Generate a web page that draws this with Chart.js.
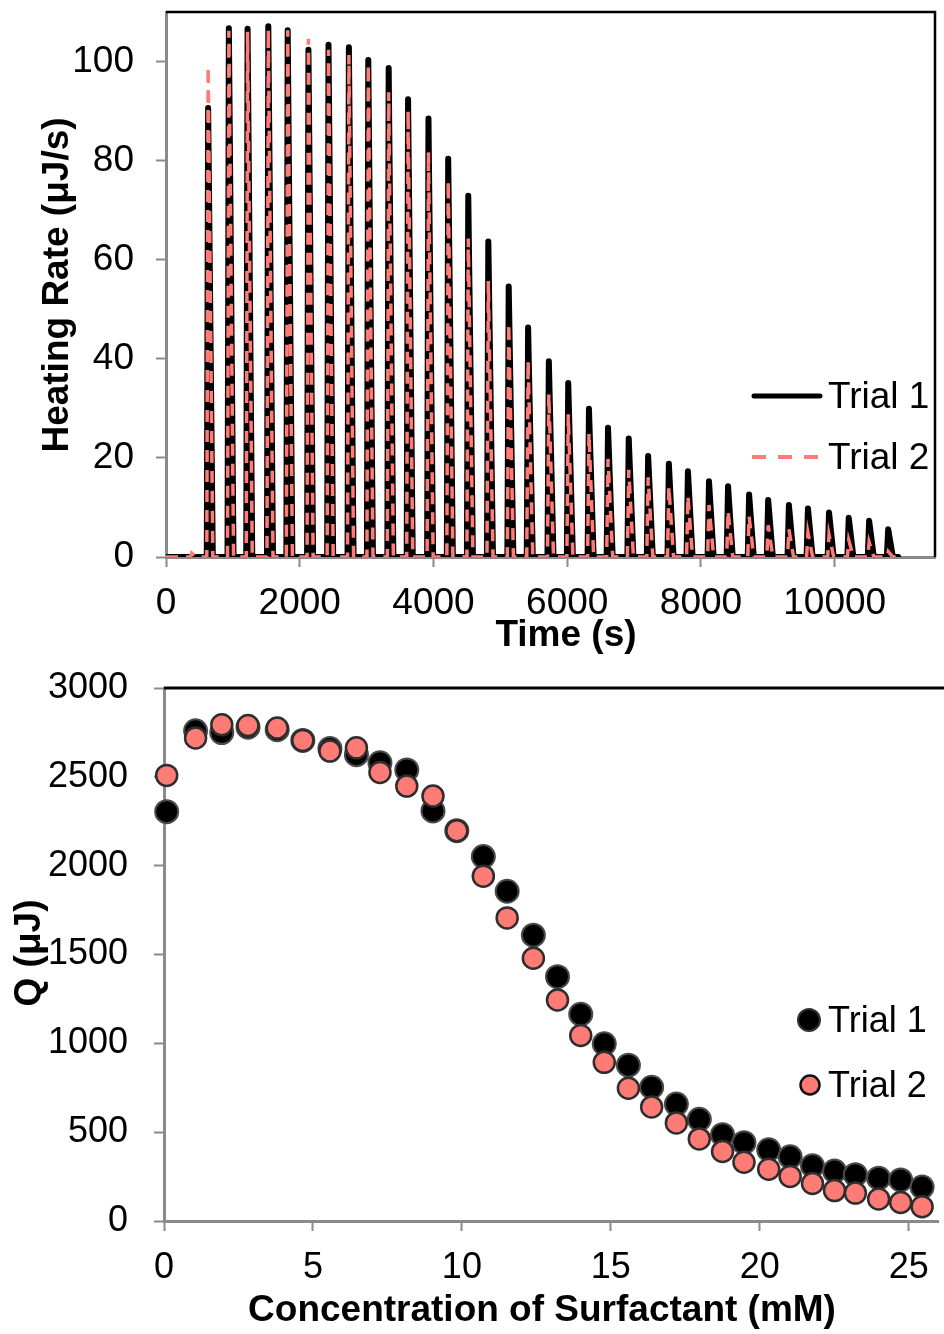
<!DOCTYPE html>
<html>
<head>
<meta charset="utf-8">
<script src="https://cdn.jsdelivr.net/npm/chart.js@4/dist/chart.umd.min.js"></script>
<style>
html, body { margin:0; padding:0; background:#fff; overflow:hidden; width:944px; height:1334px; }
#c1 { position:absolute; left:0; top:0; }
#c2 { position:absolute; left:0; top:670px; }
</style>
</head>
<body>
<canvas id="c1" width="944" height="670"></canvas>
<canvas id="c2" width="952" height="664"></canvas>
<script>
// ---------- Data: top panel (heating rate trace) ----------
const injectionTimes = [385, 630, 940, 1220, 1530, 1820, 2130, 2430, 2735, 3025, 3330, 3620, 3925, 4220, 4520, 4820, 5125, 5415, 5725, 6015, 6325, 6610, 6920, 7210, 7520, 7805, 8120, 8405, 8720, 9005, 9315, 9600, 9915, 10210, 10515, 10800];
const heatTrial1 = [0, 90.6, 106.7, 106.6, 107.1, 106.3, 102.4, 103.4, 102.9, 100.3, 98.7, 92.4, 88.5, 80.4, 72.9, 63.7, 54.6, 46.3, 39.5, 35.1, 29.9, 26.1, 23.9, 20.4, 18.8, 17.3, 15.3, 14.3, 12.6, 11.5, 10.5, 9.8, 9.0, 7.9, 7.3, 5.6];
const heatTrial2 = [0.8, 99.0, 106.2, 106.0, 106.5, 106.3, 104.6, 102.4, 101.3, 99.4, 93.8, 90.1, 81.8, 75.9, 64.3, 55.7, 47.1, 39.6, 32.9, 28.8, 25.0, 19.8, 17.6, 16.1, 14.2, 12.3, 10.5, 9.3, 8.2, 6.4, 5.6, 4.9, 4.5, 3.4, 3.0, 1.1];
const runEnd = 10950;
const timeTicks = [0, 2000, 4000, 6000, 8000, 10000];
const rateTicks = [0, 20, 40, 60, 80, 100];

// ---------- Data: bottom panel (integrated heats) ----------
const concentration = [0.09, 1.06, 1.94, 2.82, 3.80, 4.66, 5.57, 6.46, 7.25, 8.15, 9.03, 9.83, 10.72, 11.52, 12.40, 13.21, 13.99, 14.78, 15.59, 16.37, 17.20, 17.97, 18.75, 19.47, 20.30, 21.02, 21.77, 22.51, 23.21, 23.99, 24.73, 25.45];
const qTrial1 = [2304, 2759, 2749, 2779, 2765, 2705, 2659, 2625, 2579, 2539, 2308, 2197, 2051, 1856, 1609, 1375, 1164, 997, 877, 753, 658, 572, 486, 441, 401, 361, 311, 281, 261, 241, 231, 191];
const qTrial2 = [2508, 2719, 2793, 2789, 2775, 2705, 2645, 2663, 2525, 2448, 2392, 2197, 1941, 1706, 1479, 1244, 1044, 893, 747, 642, 552, 462, 391, 331, 291, 251, 211, 171, 157, 124, 104, 80];
const concTicks = [0, 5, 10, 15, 20, 25];
const qTicks = [0, 500, 1000, 1500, 2000, 2500, 3000];

const seriesNames = ['Trial 1', 'Trial 2'];

// ---------- Style ----------
const FONT = "'Liberation Sans', Arial, Helvetica, sans-serif";
const RED = '#FF7B76';
const GRAY = '#8a8a8a';
const TITLE_SIZE = 37;

function spikeTrace(times, heights) {
  const pts = [{x: 0, y: 0}];
  times.forEach((t, i) => {
    pts.push({x: t - 20, y: 0}, {x: t, y: heights[i]}, {x: t + 70, y: 0});
  });
  pts.push({x: runEnd, y: 0});
  return pts;
}

function keepTicks(list) {
  return function(scale) { scale.ticks = list.map(v => ({value: v})); };
}

function noPad(s) { s.paddingTop = 0; s.paddingBottom = 0; s.paddingLeft = 0; s.paddingRight = 0; }

function axisBase(extra) {
  return Object.assign({
    type: 'linear',
    border: {display: true, color: GRAY, width: 3},
    grid: {display: true, drawOnChartArea: false, drawTicks: true, tickLength: 10, tickColor: GRAY, tickWidth: 2},
  }, extra);
}

function tickFont(size, pad) {
  return {color: '#000', font: {family: FONT, size: size}, padding: pad, maxRotation: 0, autoSkip: false,
          callback: v => String(v)};
}

// Plugin drawing frame, titles and legend
function decoPlugin(cfg) {
  return {
    id: 'deco' + cfg.key,
    afterDraw(chart) {
      const ctx = chart.ctx, a = chart.chartArea;
      ctx.save();
      ctx.strokeStyle = '#000';
      ctx.lineWidth = cfg.frameWidth;
      ctx.beginPath();
      if (cfg.rightFrame) {
        ctx.moveTo(a.left, a.top); ctx.lineTo(a.right, a.top); ctx.lineTo(a.right, a.bottom);
      } else {
        ctx.moveTo(a.left, a.top); ctx.lineTo(chart.width, a.top);
      }
      ctx.stroke();
      ctx.fillStyle = '#000';
      ctx.font = 'bold ' + TITLE_SIZE + 'px ' + FONT;
      ctx.textAlign = 'center';
      ctx.textBaseline = 'middle';
      ctx.fillText(cfg.xTitle, cfg.xTitlePos[0], cfg.xTitlePos[1]);
      ctx.save();
      ctx.translate(cfg.yTitlePos[0], cfg.yTitlePos[1]);
      ctx.rotate(-Math.PI / 2);
      ctx.fillText(cfg.yTitle, 0, 0);
      ctx.restore();
      ctx.font = cfg.legendSize + 'px ' + FONT;
      ctx.textAlign = 'left';
      ctx.textBaseline = 'middle';
      cfg.legend.forEach((item, i) => {
        if (item.type === 'line') {
          ctx.save();
          ctx.strokeStyle = item.color;
          ctx.lineWidth = item.width;
          ctx.setLineDash(item.dash || []);
          ctx.lineCap = item.dash ? 'butt' : 'round';
          ctx.beginPath();
          ctx.moveTo(item.x0, item.y); ctx.lineTo(item.x1, item.y);
          ctx.stroke();
          ctx.restore();
        } else {
          ctx.save();
          ctx.beginPath();
          ctx.arc(item.cx, item.y, item.r, 0, Math.PI * 2);
          ctx.fillStyle = item.fill;
          ctx.fill();
          ctx.lineWidth = item.bw;
          ctx.strokeStyle = item.stroke;
          ctx.stroke();
          ctx.restore();
        }
        ctx.fillStyle = '#000';
        ctx.fillText(seriesNames[i], cfg.legendTextX, item.ty);
      });
      ctx.restore();
    }
  };
}

// ---------- Top chart ----------
new Chart(document.getElementById('c1'), {
  type: 'line',
  data: {
    datasets: [
      {label: seriesNames[0], data: spikeTrace(injectionTimes, heatTrial1), borderColor: '#000', borderWidth: 6, pointRadius: 0, tension: 0, fill: false, order: 2, borderJoinStyle: 'round', borderCapStyle: 'round'},
      {label: seriesNames[1], data: spikeTrace(injectionTimes, heatTrial2), borderColor: RED, borderWidth: 3.5, borderDash: [12, 8], pointRadius: 0, tension: 0, fill: false, order: 1}
    ]
  },
  options: {
    responsive: false, animation: false, events: [],
    layout: {padding: {left: 0, right: 9, top: 12, bottom: 0}},
    plugins: {legend: {display: false}, tooltip: {enabled: false}},
    scales: {
      x: axisBase({
        min: 0, max: 11500,
        afterBuildTicks: keepTicks(timeTicks),
        afterFit(s) { s.height = 113; noPad(s); },
        ticks: tickFont(37, 15)
      }),
      y: axisBase({
        min: 0, max: 110,
        afterBuildTicks: keepTicks(rateTicks),
        afterFit(s) { s.width = 166; noPad(s); },
        ticks: tickFont(37, 22)
      })
    }
  },
  plugins: [decoPlugin({
    key: 'top', frameWidth: 2.5, rightFrame: true,
    xTitle: 'Time (s)', xTitlePos: [566, 636],
    yTitle: 'Heating Rate (μJ/s)', yTitlePos: [58, 285],
    legendSize: 37, legendTextX: 828,
    legend: [
      {type: 'line', color: '#000', width: 5, x0: 754, x1: 820, y: 396, ty: 398},
      {type: 'line', color: RED, width: 4, dash: [14, 12], x0: 752, x1: 822, y: 457, ty: 459}
    ]
  })]
});

// ---------- Bottom chart ----------
new Chart(document.getElementById('c2'), {
  type: 'scatter',
  data: {
    datasets: [
      {label: seriesNames[0], data: concentration.map((c, i) => ({x: c, y: qTrial1[i]})), backgroundColor: '#000', borderColor: '#4a4a4a', borderWidth: 2, pointRadius: 11.5, order: 2, clip: false},
      {label: seriesNames[1], data: concentration.map((c, i) => ({x: c, y: qTrial2[i]})), backgroundColor: RED, borderColor: '#2e2e2e', borderWidth: 2.5, pointRadius: 10.5, order: 1, clip: false}
    ]
  },
  options: {
    responsive: false, animation: false, events: [],
    layout: {padding: {left: 0, right: 4, top: 18, bottom: 0}},
    plugins: {legend: {display: false}, tooltip: {enabled: false}},
    scales: {
      x: axisBase({
        min: 0, max: 26,
        afterBuildTicks: keepTicks(concTicks),
        afterFit(s) { s.height = 113; noPad(s); },
        ticks: tickFont(36, 15)
      }),
      y: axisBase({
        min: 0, max: 3000,
        afterBuildTicks: keepTicks(qTicks),
        afterFit(s) { s.width = 164; noPad(s); },
        ticks: tickFont(36, 26)
      })
    }
  },
  plugins: [decoPlugin({
    key: 'bottom', frameWidth: 3, rightFrame: false,
    xTitle: 'Concentration of Surfactant (mM)', xTitlePos: [542, 641],
    yTitle: 'Q (μJ)', yTitlePos: [30, 283],
    legendSize: 36, legendTextX: 828,
    legend: [
      {type: 'dot', cx: 809, y: 350, r: 11, fill: '#000', stroke: '#333', bw: 2, ty: 352},
      {type: 'dot', cx: 810, y: 415, r: 9.5, fill: RED, stroke: '#111', bw: 2.5, ty: 417}
    ]
  })]
});
</script>
</body>
</html>
